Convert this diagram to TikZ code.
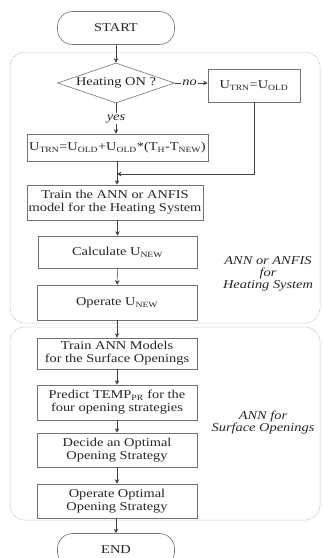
\documentclass[tikz,border=0pt]{standalone}
\usepackage{fontspec}
\setmainfont{Liberation Serif}[FakeStretch=1.2]
\usetikzlibrary{shapes.geometric,arrows.meta}
\begin{document}
\begin{tikzpicture}[x=1pt,y=-1pt,
  font=\fontsize{12}{13}\selectfont,
  every node/.style={text=black!85},
  box/.style={draw=black!55, line width=0.6pt, fill=white, align=center, inner sep=0pt},
  term/.style={box, rounded corners=15pt, minimum width=117pt, minimum height=33pt},
  grp/.style={draw=black!35, line width=0.5pt, dash pattern=on 1pt off 1pt, rounded corners=15pt},
  arr/.style={draw=black!75, line width=0.5pt, -{Stealth[length=4.5pt,width=4.5pt]}},
  lbl/.style={font=\fontsize{12}{12}\selectfont\itshape, align=center},
  edgelbl/.style={font=\fontsize{12}{12}\selectfont\itshape, fill=white, inner sep=1pt}]
\useasboundingbox (0,0) rectangle (322,558);
\clip (0,0) rectangle (322,558);
\fill[white] (0,0) rectangle (322,558);
% groups
\draw[grp] (10,52) rectangle (320,323);
\draw[grp] (10,327) rectangle (320,520);
% nodes
\node[term] (start) at (116,28) {START};
\node[diamond, draw=black!55, line width=0.6pt, fill=white, minimum width=117pt, minimum height=40pt, inner sep=0pt] (dia) at (116,83) {};
\node (diatext) at (dia) {Heating ON ?};
\node[box, minimum width=92pt, minimum height=33pt] (nobox) at (254,85.5) {U\textsubscript{TRN}=U\textsubscript{OLD}};
\node[box, minimum width=181pt, minimum height=27pt] (ubox) at (117.5,147.5) {U\textsubscript{TRN}=U\textsubscript{OLD}+U\textsubscript{OLD}*(T\textsubscript{H}-T\textsubscript{NEW})};
\node[box, minimum width=176pt, minimum height=35pt] (train) at (115,202.5) {Train the ANN or ANFIS\\model for the Heating System};
\node[box, minimum width=159pt, minimum height=32pt] (calc) at (117.5,252) {Calculate U\textsubscript{NEW}};
\node[box, minimum width=160pt, minimum height=35pt] (oper) at (117,302.5) {Operate U\textsubscript{NEW}};
\node[box, minimum width=160pt, minimum height=31pt] (tann) at (117,353.5) {Train ANN Models\\for the Surface Openings};
\node[box, minimum width=160pt, minimum height=35pt] (pred) at (117,402.5) {Predict TEMP\textsubscript{PR} for the\\four opening strategies};
\node[box, minimum width=160pt, minimum height=34pt] (dec) at (117,450) {Decide an Optimal\\Opening Strategy};
\node[box, minimum width=160pt, minimum height=34pt] (oopt) at (117,501) {Operate Optimal\\Opening Strategy};
\node[term] (end) at (116,550) {END};
% labels
\node[lbl] (lab1) at (268,274) {ANN or ANFIS\\for\\Heating System};
\node[lbl] (lab2) at (263,422.5) {ANN for\\Surface Openings};
% connectors
\coordinate (merge) at (117,174);
\draw[arr] (start) -- (dia);
\draw[arr] (dia.east) -- node[edgelbl, pos=0.45] {no} (nobox.west |- dia.east);
\draw[arr] (dia.south) -- node[edgelbl] {yes} (ubox.north -| dia.south);
\draw[arr] (nobox.south) |- (merge);
\draw[arr] (ubox.south -| merge) -- (train.north -| merge);
\draw[arr] (train.south -| calc) -- (calc);
\draw[arr] (calc) -- (oper);
\draw[arr] (oper) -- (tann);
\draw[arr] (tann) -- (pred);
\draw[arr] (pred) -- (dec);
\draw[arr] (dec) -- (oopt);
\draw[arr] (oopt.south -| end) -- (end);
\end{tikzpicture}
\end{document}
